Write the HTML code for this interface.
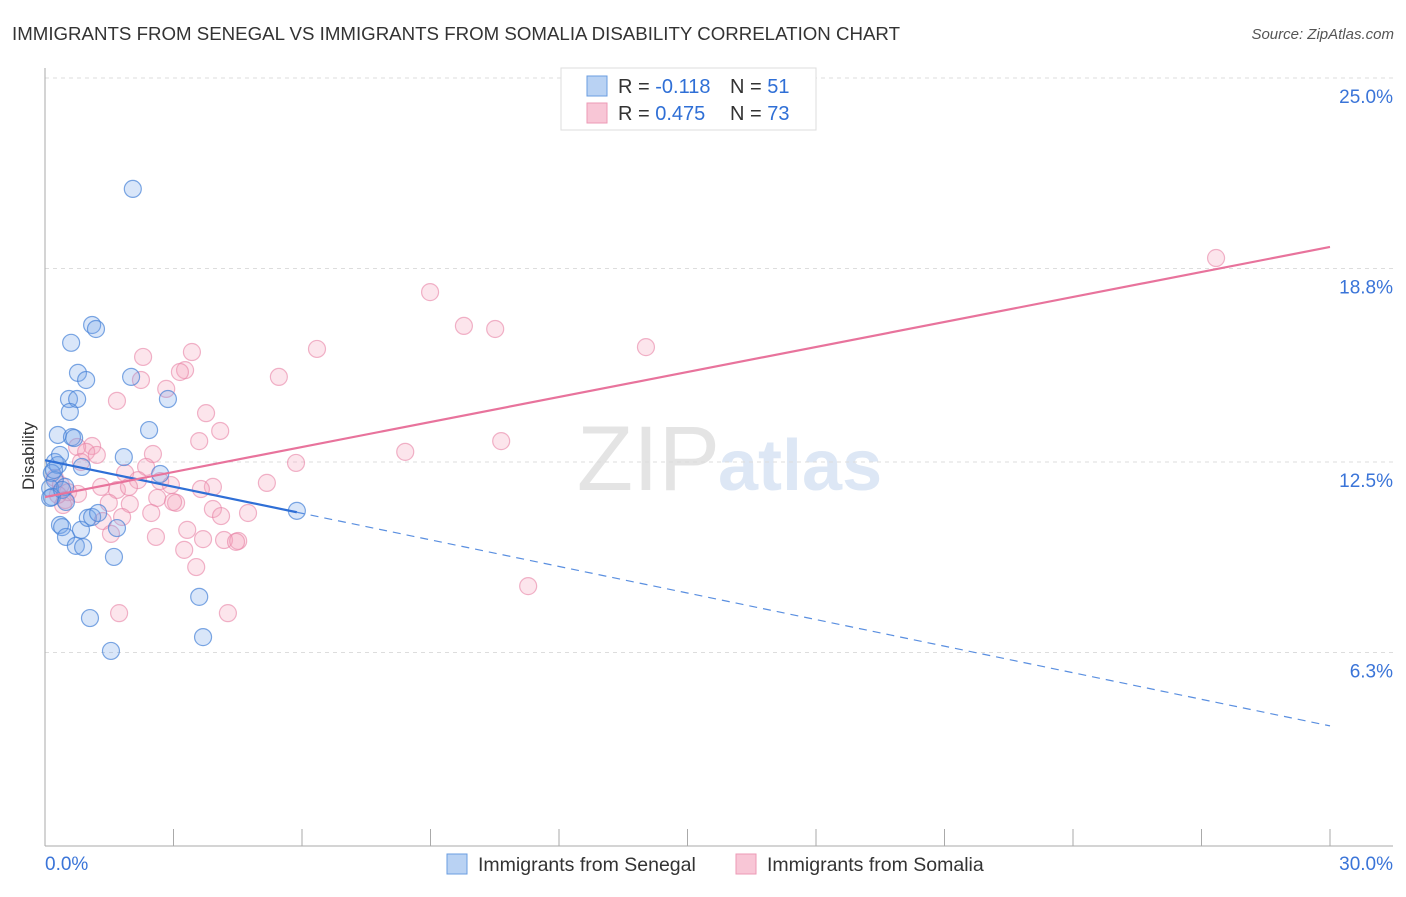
<!DOCTYPE html>
<html><head><meta charset="utf-8"><style>
body{margin:0;background:#fff;font-family:"Liberation Sans",sans-serif;}
svg text{font-family:"Liberation Sans",sans-serif;}
</style></head><body>
<svg id="c" width="1406" height="892">
<text x="12" y="40" font-size="18" fill="#333" textLength="888" lengthAdjust="spacingAndGlyphs">IMMIGRANTS FROM SENEGAL VS IMMIGRANTS FROM SOMALIA DISABILITY CORRELATION CHART</text>
<text x="1394" y="39" font-size="15" fill="#555" text-anchor="end" font-style="italic">Source: ZipAtlas.com</text>
<text x="720" y="490" font-size="92" fill="#e4e4e4" text-anchor="end" font-family="Liberation Serif">ZIP</text>
<text x="718" y="490" font-size="72" fill="#dde7f5" font-weight="bold">atlas</text>
<g id="grid"></g>
<g id="axes"></g>
<g id="pts"></g>
<g id="lines"></g>
<text x="34" y="456" font-size="17" fill="#333" text-anchor="middle" transform="rotate(-90 34 456)">Disability</text>
<g>
<rect x="561" y="68" width="255" height="62" fill="#fff" stroke="#ddd"/>
<rect x="587" y="76" width="20" height="20" fill="#b9d2f3" stroke="#6a9de0"/>
<rect x="587" y="103" width="20" height="20" fill="#f8c6d6" stroke="#ec9ab6"/>
<text x="618" y="93" font-size="20" fill="#333">R = <tspan fill="#2f6fd6">-0.118</tspan></text>
<text x="730" y="93" font-size="20" fill="#333">N = <tspan fill="#2f6fd6">51</tspan></text>
<text x="618" y="120" font-size="20" fill="#333">R = <tspan fill="#2f6fd6">0.475</tspan></text>
<text x="730" y="120" font-size="20" fill="#333">N = <tspan fill="#2f6fd6">73</tspan></text>
</g>
<g>
<rect x="447" y="854" width="20" height="20" fill="#b9d2f3" stroke="#6a9de0"/>
<text x="478" y="871" font-size="19.5" fill="#333">Immigrants from Senegal</text>
<rect x="736" y="854" width="20" height="20" fill="#f8c6d6" stroke="#ec9ab6"/>
<text x="767" y="871" font-size="19.5" fill="#333">Immigrants from Somalia</text>
</g>
</svg>
<script>
const yTicks=[25.0,18.8,12.5,6.3];
const yTickLabels=["25.0%","18.8%","12.5%","6.3%"];
const xLabels=["0.0%","30.0%"];
const blueX=[2.05,1.10,1.19,0.61,0.77,0.96,2.01,0.56,0.75,2.87,0.58,2.43,0.30,0.63,0.68,1.84,0.23,0.30,0.86,2.69,0.16,0.23,0.12,0.47,0.16,0.12,0.35,0.40,0.49,0.84,1.00,1.10,1.24,0.72,0.89,1.61,5.88,3.60,1.05,3.69,1.54,0.35,0.40,1.68,0.49,0.21];
const blueY=[21.39,16.96,16.83,16.38,15.40,15.17,15.27,14.55,14.55,14.55,14.13,13.54,13.38,13.31,13.28,12.66,12.50,12.40,12.34,12.11,12.14,11.91,11.65,11.69,11.36,11.33,10.45,10.38,10.06,10.29,10.68,10.71,10.84,9.77,9.73,9.41,10.91,8.11,7.42,6.80,6.35,12.73,11.59,10.35,11.20,12.24];
const pinkX=[27.34,8.99,9.78,10.51,14.03,6.35,3.43,2.29,3.27,3.15,5.46,2.24,2.83,1.68,3.76,4.09,3.60,10.65,1.10,0.75,8.41,0.96,2.52,1.21,0.84,5.86,2.36,1.87,2.17,2.69,5.18,0.23,0.37,1.31,1.68,1.96,2.94,3.92,3.64,0.54,0.77,2.62,1.49,1.98,3.06,2.99,3.92,2.48,1.80,1.35,4.11,4.74,3.32,1.54,2.59,3.69,4.18,4.51,4.46,3.25,3.53,11.28,1.73,4.27,0.47,0.42,0.30];
const pinkY=[19.14,18.03,16.93,16.83,16.24,16.18,16.08,15.92,15.49,15.43,15.27,15.17,14.88,14.49,14.09,13.51,13.18,13.18,13.02,12.99,12.83,12.83,12.76,12.73,12.50,12.47,12.34,12.14,11.91,11.88,11.82,11.98,11.75,11.69,11.59,11.69,11.75,11.69,11.62,11.52,11.46,11.33,11.17,11.13,11.17,11.20,10.97,10.84,10.71,10.58,10.74,10.84,10.29,10.16,10.06,9.99,9.96,9.93,9.90,9.64,9.08,8.46,7.58,7.58,11.26,11.10,11.43];
const blueFit=[12.56,3.91]; const blueSolidEnd=5.88;
const pinkFit=[11.36,19.5];
const X=v=>45+v/30*1285;
const Y=v=>462-(v-12.5)*30.72;
const NS="http://www.w3.org/2000/svg";
function mk(tag,attrs,parent){const e=document.createElementNS(NS,tag);for(const k in attrs)e.setAttribute(k,attrs[k]);document.getElementById(parent).appendChild(e);return e;}
yTicks.forEach((t,i)=>{
 const g=mk('line',{x1:45,x2:1393,y1:Y(t),y2:Y(t),stroke:'#ddd','stroke-dasharray':'4,4'},'grid');
 
 
 const l=mk('text',{x:1393,y:Y(t)+25,'font-size':19,fill:'#3a74d8','text-anchor':'end'},'axes');
 l.textContent=yTickLabels[i];
 
 
});
const ya=mk('line',{x1:45,x2:45,y1:68,y2:846,stroke:'#aaa'},'axes');


const xa=mk('line',{x1:45,x2:1393,y1:846,y2:846,stroke:'#aaa'},'axes');


for(let i=0;i<=10;i++){
 const t=mk('line',{x1:X(i*3),x2:X(i*3),y1:829,y2:846,stroke:'#aaa'},'axes');
 
 
}
const xl0=mk('text',{x:45,y:870,'font-size':19,fill:'#3a74d8'},'axes');xl0.textContent=xLabels[0];


const xl1=mk('text',{x:1393,y:870,'font-size':19,fill:'#3a74d8','text-anchor':'end'},'axes');xl1.textContent=xLabels[1];


pinkX.forEach((x,i)=>{
 const c=mk('circle',{cx:X(x),cy:Y(pinkY[i]),r:8.5,fill:'rgba(244,160,188,0.28)',stroke:'rgba(232,130,165,0.6)','stroke-width':1.2},'pts');
 
 
});
blueX.forEach((x,i)=>{
 const c=mk('circle',{cx:X(x),cy:Y(blueY[i]),r:8.5,fill:'rgba(120,165,235,0.28)',stroke:'rgba(70,130,215,0.7)','stroke-width':1.2},'pts');
 
 
});
const bAt=x=>blueFit[0]+(blueFit[1]-blueFit[0])*x/30;
const b1=mk('line',{x1:X(0),y1:Y(bAt(0)),x2:X(blueSolidEnd),y2:Y(bAt(blueSolidEnd)),stroke:'#2f6fd6','stroke-width':2.2},'lines');


const b2=mk('line',{x1:X(blueSolidEnd),y1:Y(bAt(blueSolidEnd)),x2:X(30),y2:Y(bAt(30)),stroke:'#5a8fe0','stroke-width':1.2,'stroke-dasharray':'8,6'},'lines');


const p1=mk('line',{x1:X(0),y1:Y(pinkFit[0]),x2:X(30),y2:Y(pinkFit[1]),stroke:'#e8739c','stroke-width':2.2},'lines');


</script>
</body></html>
